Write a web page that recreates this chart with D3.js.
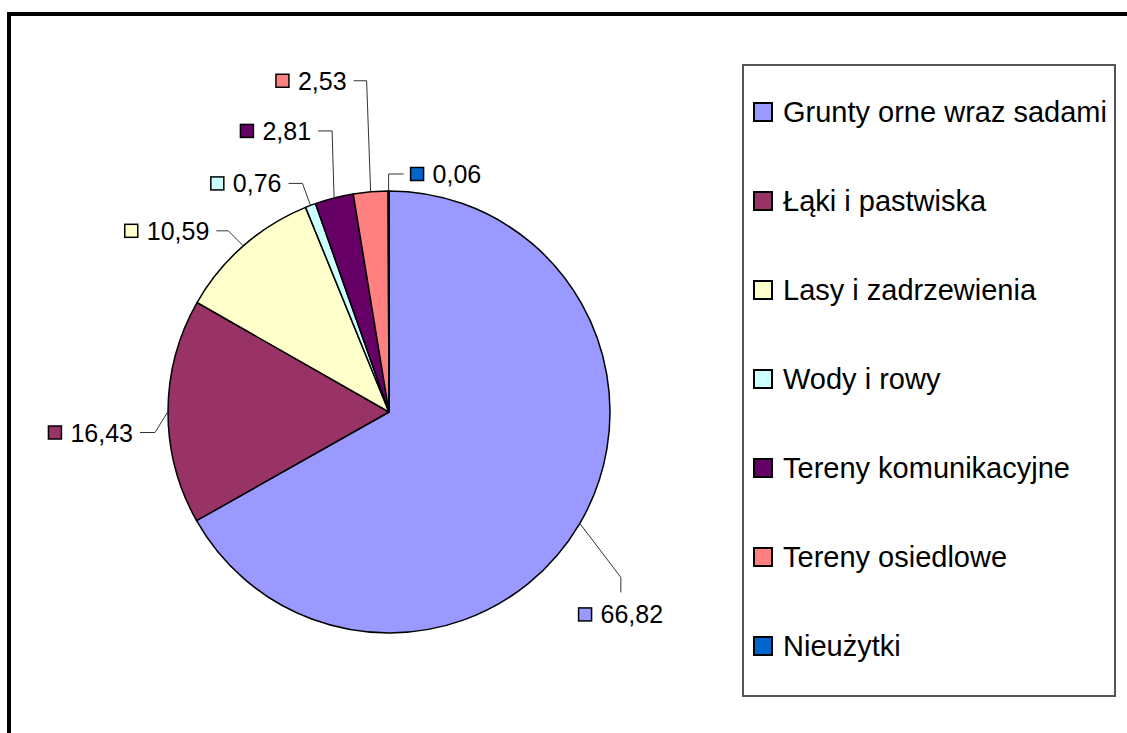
<!DOCTYPE html>
<html>
<head>
<meta charset="utf-8">
<script src="https://cdn.jsdelivr.net/npm/d3@7"></script>
<style>
  body { margin: 0; background: #fff; }
  svg { display: block; font-family: "Liberation Sans", Arial, sans-serif; }
</style>
</head>
<body>
<script>
// data
var categories = ["Grunty orne wraz sadami", "Łąki i pastwiska", "Lasy i zadrzewienia",
                  "Wody i rowy", "Tereny komunikacyjne", "Tereny osiedlowe", "Nieużytki"];
var values = [66.82, 16.43, 10.59, 0.76, 2.81, 2.53, 0.06];
var colors = ["#9999FF", "#993366", "#FFFFCC", "#CCFFFF", "#660066", "#FF8080", "#0066CC"];

// where each label's leader bends (relative to slice edge) and which way it runs
var leaders = [
  {dx: 41, dy: 54, dir: "down", len: 15},
  {dx: -13, dy: 21, dir: "left", len: 15},
  {dx: -15, dy: -15, dir: "left", len: 12},
  {dx: -8, dy: -22, dir: "left", len: 14},
  {dx: -2, dy: -67, dir: "left", len: 14},
  {dx: -4, dy: -111, dir: "left", len: 13},
  {dx: 0, dy: -17, dir: "right", len: 15}
];

var width = 1127, height = 733;
var cx = 389, cy = 412, radius = 221;

var fmt = d => d3.format(".2f")(d).replace(".", ",");

var svg = d3.select("body").append("svg")
    .attr("width", width)
    .attr("height", height);

// outer frame
svg.append("rect")
    .attr("x", 9).attr("y", 14)
    .attr("width", width + 20).attr("height", height + 20)
    .attr("fill", "white")
    .attr("stroke", "black")
    .attr("stroke-width", 4);

var pie = d3.pie().sort(null).value(d => d);
var arcs = pie(values);
var arc = d3.arc().innerRadius(0).outerRadius(radius);

var g = svg.append("g").attr("transform", `translate(${cx},${cy})`);

g.selectAll("path.slice")
    .data(arcs)
    .enter()
    .append("path")
        .attr("class", "slice")
        .attr("d", arc)
        .attr("fill", (d, i) => colors[i])
        .attr("stroke", "black")
        .attr("stroke-width", 1.5)
        .attr("stroke-linejoin", "round");

// data labels with leader lines
var labelSize = 25, sq = 13;
arcs.forEach((d, i) => {
    var mid = (d.startAngle + d.endAngle) / 2;
    var ex = radius * Math.sin(mid), ey = -radius * Math.cos(mid);
    var L = leaders[i];
    var bx = ex + L.dx, by = ey + L.dy;
    var tx = bx, ty = by;
    if (L.dir == "left") tx = bx - L.len;
    else if (L.dir == "right") tx = bx + L.len;
    else ty = by + L.len;

    g.append("polyline")
        .attr("points", [[ex, ey], [bx, by], [tx, ty]].map(p => p.join(",")).join(" "))
        .attr("fill", "none")
        .attr("stroke", "#333")
        .attr("stroke-width", 1);

    var lab = g.append("g");
    var t = lab.append("text")
        .attr("font-size", labelSize)
        .attr("fill", "black")
        .text(fmt(values[i]));
    var tw = t.node().getComputedTextLength();
    var total = sq + 9 + tw;
    var x0, yc;
    if (L.dir == "left") { x0 = tx - 7 - total; yc = ty; }
    else if (L.dir == "right") { x0 = tx + 7; yc = ty; }
    else { x0 = tx - total / 2; yc = ty + 22; }

    lab.append("rect")
        .attr("x", x0).attr("y", yc - sq / 2)
        .attr("width", sq).attr("height", sq)
        .attr("fill", colors[i])
        .attr("stroke", "black")
        .attr("stroke-width", 1.5);
    t.attr("x", x0 + sq + 9).attr("y", yc + labelSize * 0.36);
});

// legend
var legX = 743, legY = 65, legW = 372, legH = 631;
svg.append("rect")
    .attr("x", legX).attr("y", legY)
    .attr("width", legW).attr("height", legH)
    .attr("fill", "white")
    .attr("stroke", "#555")
    .attr("stroke-width", 2);

var legScale = d3.scalePoint()
    .domain(categories)
    .range([legY + 47, legY + 581]);

var items = svg.selectAll("g.leg")
    .data(categories)
    .enter()
    .append("g")
        .attr("class", "leg")
        .attr("transform", d => `translate(${legX + 11},${legScale(d)})`);

items.append("rect")
    .attr("x", 0).attr("y", -9)
    .attr("width", 18).attr("height", 18)
    .attr("fill", (d, i) => colors[i])
    .attr("stroke", "black")
    .attr("stroke-width", 2);

items.append("text")
    .attr("x", 29)
    .attr("y", 10)
    .attr("font-size", 29)
    .attr("fill", "black")
    .text(d => d);
</script>
</body>
</html>
